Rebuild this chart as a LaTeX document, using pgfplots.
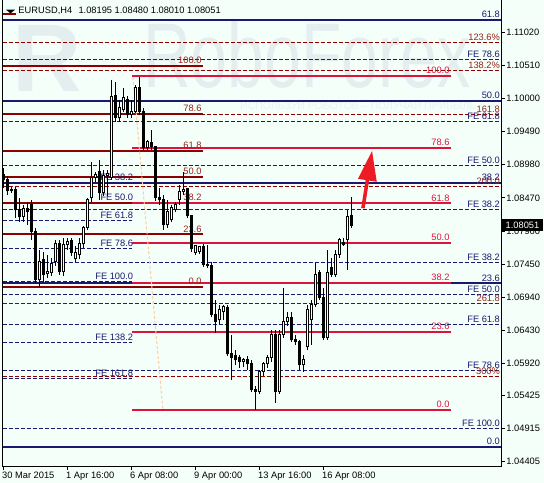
\documentclass[border=0pt]{standalone}
\usepackage{pgfplots}
\pgfplotsset{compat=1.18}
\usepackage{pgfplotstable}
\usepackage{fontspec}
\setmainfont{Liberation Sans}
\usetikzlibrary{arrows.meta}
\definecolor{bg}{RGB}{245,255,250}
\definecolor{navyl}{RGB}{25,25,112}
\definecolor{dred}{RGB}{139,0,0}
\definecolor{dredlab}{RGB}{150,35,25}
\definecolor{crim}{RGB}{220,20,60}
\definecolor{peach}{RGB}{252,205,160}
\definecolor{arrowred}{RGB}{237,28,36}
\definecolor{wm}{RGB}{228,238,238}
\definecolor{wm2}{RGB}{233,241,241}
\newcommand{\tf}{\fontsize{9.3bp}{11bp}\selectfont}
\pgfplotsset{
  solidN/.style={navyl, line width=2bp},
  dashN/.style={navyl, line width=1bp, dash pattern=on 4bp off 2bp},
  solidR/.style={dred, line width=2bp},
  dashR/.style={dred, line width=1bp, dash pattern=on 4bp off 2bp},
  solidC/.style={crim, line width=2bp},
}
\newcommand{\HL}[4]{\addplot[#1, forget plot] coordinates {(#2,#4) (#3,#4)};}
\newcommand{\LB}[4]{\node[font=\tf, text=#1, anchor=base east, inner sep=0pt, yshift=2bp] at (axis cs:#2,#3) {#4};}

\pgfplotstableread{
i o h l c
0 1.08823 1.08931 1.08623 1.08746
1 1.08746 1.08808 1.08515 1.08577
2 1.08592 1.08638 1.08546 1.08577
3 1.08592 1.08638 1.08161 1.08284
4 1.08284 1.08469 1.08099 1.08176
5 1.08176 1.08361 1.08099 1.08299
6 1.08299 1.08392 1.08053 1.08253
7 1.08361 1.08438 1.07822 1.07945
8 1.07945 1.08007 1.07160 1.07206
9 1.07206 1.07668 1.07098 1.07483
10 1.07514 1.07637 1.07175 1.07283
11 1.07298 1.07591 1.07237 1.07329
12 1.07314 1.07545 1.07268 1.07452
13 1.07483 1.07822 1.07422 1.07760
14 1.07760 1.07822 1.07283 1.07329
15 1.07329 1.07853 1.07268 1.07745
16 1.07745 1.07853 1.07668 1.07791
17 1.07807 1.07853 1.07576 1.07622
18 1.07529 1.07730 1.07483 1.07622
19 1.07591 1.07853 1.07529 1.07760
20 1.07760 1.08038 1.07699 1.08007
21 1.08007 1.08469 1.07976 1.08438
22 1.08469 1.09023 1.08407 1.08777
23 1.08777 1.08869 1.08715 1.08823
24 1.08869 1.09054 1.08438 1.08546
25 1.08546 1.08900 1.08500 1.08808
26 1.08808 1.08900 1.08500 1.08838
27 1.08777 1.10286 1.08746 1.10024
28 1.10040 1.10255 1.09639 1.09701
29 1.09701 1.09978 1.09639 1.09855
30 1.09824 1.10163 1.09793 1.10009
31 1.09978 1.10040 1.09701 1.09747
32 1.09747 1.09978 1.09701 1.09793
33 1.09793 1.10209 1.09778 1.10163
34 1.10163 1.10332 1.09747 1.09793
35 1.09793 1.09855 1.09208 1.09239
36 1.09239 1.09362 1.09208 1.09331
37 1.09316 1.09516 1.09208 1.09254
38 1.09254 1.09270 1.08423 1.08469
39 1.08469 1.08623 1.08361 1.08438
40 1.08438 1.08515 1.07976 1.08053
41 1.08053 1.08438 1.08007 1.08253
42 1.08130 1.08361 1.08099 1.08315
43 1.08284 1.08407 1.08253 1.08361
44 1.08438 1.08669 1.08361 1.08561
45 1.08561 1.08869 1.08515 1.08592
46 1.08607 1.08623 1.08161 1.08192
47 1.08192 1.08207 1.07637 1.07683
48 1.07622 1.07745 1.07591 1.07730
49 1.07637 1.07730 1.07606 1.07714
50 1.07714 1.07760 1.07406 1.07437
51 1.07437 1.07745 1.07391 1.07422
52 1.07422 1.07483 1.06636 1.06667
53 1.06667 1.06898 1.06390 1.06559
54 1.06590 1.06821 1.06528 1.06744
55 1.06713 1.06821 1.06590 1.06790
56 1.06775 1.06821 1.06036 1.06066
57 1.06066 1.06359 1.05666 1.06005
58 1.06036 1.06128 1.05897 1.05974
59 1.06005 1.06051 1.05851 1.05943
60 1.05943 1.06005 1.05866 1.05974
61 1.05974 1.06036 1.05820 1.05912
62 1.05912 1.05974 1.05482 1.05512
63 1.05512 1.05574 1.05204 1.05482
64 1.05482 1.05820 1.05451 1.05789
65 1.05789 1.05943 1.05728 1.05912
66 1.05912 1.06051 1.05851 1.06005
67 1.06005 1.06436 1.05943 1.06359
68 1.06359 1.06436 1.05312 1.05482
69 1.05482 1.06436 1.05451 1.06359
70 1.06359 1.07083 1.06313 1.06559
71 1.06559 1.06713 1.06498 1.06621
72 1.06621 1.06713 1.06251 1.06282
73 1.06282 1.06359 1.06205 1.06251
74 1.06251 1.06282 1.05820 1.05897
75 1.05897 1.06051 1.05789 1.05974
76 1.06174 1.06821 1.06128 1.06744
77 1.06590 1.06898 1.06205 1.06821
78 1.06821 1.07468 1.06790 1.07283
79 1.07314 1.07360 1.06898 1.06929
80 1.06929 1.07083 1.06282 1.06313
81 1.06313 1.07668 1.06282 1.07314
82 1.07391 1.07545 1.07252 1.07283
83 1.07283 1.07668 1.07252 1.07591
84 1.07591 1.07853 1.07545 1.07822
85 1.07776 1.07853 1.07730 1.07745
86 1.07822 1.08284 1.07360 1.08176
87 1.08195 1.08480 1.08010 1.08051
}\candles

\begin{document}
\begin{tikzpicture}
\fill[bg] (-2.7bp,-17bp) rectangle (541.3bp,466bp);
% watermark
\node[anchor=base west, inner sep=0pt, text=wm, font=\bfseries\fontsize{96bp}{96bp}\selectfont] at (10bp,374bp) {R};
\node[anchor=base west, inner sep=0pt, text=wm, font=\fontsize{92bp}{92bp}\selectfont, xscale=0.72] at (140.3bp,378bp) {RoboForex};
\node[anchor=base west, inner sep=0pt, text=wm2, font=\fontsize{10.5bp}{11bp}\selectfont] at (237.3bp,356bp) {ИСПОЛЬЗУЙ РОБОТОВ – ПОЛУЧАЙ ПРИБЫЛЬ};
\begin{axis}[
  at={(0,0)}, anchor=south west,
  scale only axis, width=499bp, height=466bp,
  xmin=-0.15, xmax=124.6, ymin=1.04339, ymax=1.11518,
  axis line style={draw=none},
  clip=false,
  xtick={0,16,32,48,64,80},
  xticklabels={30 Mar 2015,1 Apr 16:00,6 Apr 08:00,9 Apr 00:00,13 Apr 16:00,16 Apr 08:00},
  ytick={1.11020,1.10510,1.10000,1.09490,1.08980,1.08470,1.07960,1.07450,1.06940,1.06430,1.05920,1.05425,1.04915,1.04405},
  yticklabels={1.11020,1.10510,1.10000,1.09490,1.08980,1.08470,1.07960,1.07450,1.06940,1.06430,1.05920,1.05425,1.04915,1.04405},
  xtick pos=left, ytick pos=right, yticklabel pos=right,
  tick align=outside, major tick length=3.5bp,
  tick style={black, line width=0.8bp},
  xticklabel style={anchor=north west, font=\tf, inner sep=0pt, xshift=-1.3bp, yshift=-2bp},
  yticklabel style={anchor=west, font=\tf, inner sep=0pt, xshift=1bp},
]
% right full-width levels
\HL{dashR}{-0.15}{124.6}{1.10867}
\HL{dashN}{-0.15}{124.6}{1.10605}
\HL{dashR}{-0.15}{124.6}{1.10435}
\HL{dashR}{-0.15}{124.6}{1.09755}
\HL{dashN}{-0.15}{124.6}{1.09644}
\HL{dashN}{-0.15}{124.6}{1.08972}
\HL{dashR}{-0.15}{124.6}{1.08638}
\HL{dashN}{-0.15}{124.6}{1.08295}
\HL{dashN}{-0.15}{124.6}{1.07479}
\HL{dashN}{-0.15}{124.6}{1.06986}
\HL{dashR}{-0.15}{124.6}{1.06847}
\HL{dashN}{-0.15}{124.6}{1.06513}
\HL{dashN}{-0.15}{124.6}{1.05809}
\HL{dashR}{-0.15}{124.6}{1.05717}
\HL{dashN}{-0.15}{124.6}{1.04922}
% left FE levels
\HL{dashN}{-0.15}{32.2}{1.08400}
\HL{dashN}{-0.15}{32.2}{1.08115}
\HL{dashN}{-0.15}{32.2}{1.07694}
\HL{dashN}{-0.15}{32.2}{1.07183}
\HL{dashN}{-0.15}{32.2}{1.06247}
\HL{dashN}{-0.15}{32.2}{1.05681}
% navy retracement
\HL{solidN}{-0.15}{124.6}{1.11210}
\HL{solidN}{-0.15}{124.6}{1.09967}
\HL{solidN}{-0.15}{124.6}{1.08700}
\HL{solidN}{-0.15}{124.6}{1.07155}
\HL{solidN}{-0.15}{124.6}{1.04639}
% dark red retracement
\HL{solidR}{-0.15}{49.85}{1.10506}
\HL{solidR}{-0.15}{49.85}{1.09767}
\HL{solidR}{-0.15}{49.85}{1.09197}
\HL{solidR}{-0.15}{49.85}{1.08797}
\HL{solidR}{-0.15}{49.85}{1.08396}
\HL{solidR}{-0.15}{49.85}{1.07907}
\HL{solidR}{-0.15}{49.85}{1.07103}
% crimson retracement
\HL{solidC}{32.2}{111.9}{1.10348}
\HL{solidC}{32.2}{111.9}{1.09243}
\HL{solidC}{32.2}{111.9}{1.08384}
\HL{solidC}{32.2}{111.9}{1.07780}
\HL{solidC}{32.2}{111.9}{1.07160}
\HL{solidC}{32.2}{111.9}{1.06410}
\HL{solidC}{32.2}{111.9}{1.05204}
% fibo base line
\addplot[peach, line width=1bp, dash pattern=on 3bp off 2bp, forget plot] coordinates {(32.4,1.10332) (39.9,1.05204)};
% labels right
\LB{dredlab}{124.2}{1.10867}{123.6\%}
\LB{navyl}{124.2}{1.10605}{FE 78.6}
\LB{dredlab}{124.2}{1.10435}{138.2\%}
\LB{dredlab}{124.2}{1.09755}{161.8}
\LB{navyl}{124.2}{1.09644}{FE 61.8}
\LB{navyl}{124.2}{1.08972}{FE 50.0}
\LB{dredlab}{124.2}{1.08638}{200.0}
\LB{navyl}{124.2}{1.08295}{FE 38.2}
\LB{navyl}{124.2}{1.07479}{FE 38.2}
\LB{navyl}{124.2}{1.06986}{FE 50.0}
\LB{dredlab}{124.2}{1.06847}{261.8}
\LB{navyl}{124.2}{1.06513}{FE 61.8}
\LB{navyl}{124.2}{1.05809}{FE 78.6}
\LB{dredlab}{124.2}{1.05717}{300\%}
\LB{navyl}{124.2}{1.04922}{FE 100.0}
\LB{navyl}{124.2}{1.11210}{61.8}
\LB{navyl}{124.2}{1.09967}{50.0}
\LB{navyl}{124.2}{1.08700}{38.2}
\LB{navyl}{124.2}{1.07155}{23.6}
\LB{navyl}{124.2}{1.04639}{0.0}
% left FE labels
\LB{navyl}{32.5}{1.08700}{FE 38.2}
\LB{navyl}{32.5}{1.08400}{FE 50.0}
\LB{navyl}{32.5}{1.08115}{FE 61.8}
\LB{navyl}{32.5}{1.07694}{FE 78.6}
\LB{navyl}{32.5}{1.07183}{FE 100.0}
\LB{navyl}{32.5}{1.06247}{FE 138.2}
\LB{navyl}{32.5}{1.05681}{FE 161.8}
% dark red labels
\LB{dredlab}{49.6}{1.10506}{100.0}
\LB{dredlab}{49.6}{1.09767}{78.6}
\LB{dredlab}{49.6}{1.09197}{61.8}
\LB{dredlab}{49.6}{1.08797}{50.0}
\LB{dredlab}{49.6}{1.08396}{38.2}
\LB{dredlab}{49.6}{1.07907}{23.6}
\LB{dredlab}{49.6}{1.07103}{0.0}
% crimson labels
\LB{crim}{111.6}{1.10348}{100.0}
\LB{crim}{111.6}{1.09243}{78.6}
\LB{crim}{111.6}{1.08384}{61.8}
\LB{crim}{111.6}{1.07780}{50.0}
\LB{crim}{111.6}{1.07160}{38.2}
\LB{crim}{111.6}{1.06410}{23.6}
\LB{crim}{111.6}{1.05204}{0.0}
% candles: wicks
\addplot[draw=none, mark=none, forget plot,
  error bars/.cd, y dir=plus, y explicit, error mark=none,
  error bar style={draw=black, solid, line width=1bp}]
  table[x=i, y=l, y error plus expr={\thisrow{h}-\thisrow{l}}] {\candles};
% bodies (outline / bear fill)
\addplot[draw=none, mark=none, forget plot,
  error bars/.cd, y dir=plus, y explicit, error mark=none,
  error bar style={draw=black, solid, line width=3bp}]
  table[x=i, y expr={min(\thisrow{o},\thisrow{c})-0.00008}, y error plus expr={abs(\thisrow{o}-\thisrow{c})+0.00016}] {\candles};
% bull interior
\addplot[draw=none, mark=none, forget plot,
  error bars/.cd, y dir=plus, y explicit, error mark=none,
  error bar style={draw=white, solid, line width=1bp}]
  table[x=i, y expr={\thisrow{o}+0.00008}, y error plus expr={max(\thisrow{c}-\thisrow{o}-0.00016,0)}] {\candles};
% arrow
\addplot[arrowred, line width=3.5bp, -{Triangle[length=30bp, width=18bp]}, forget plot] coordinates {(89.9,1.08310) (92.2,1.09197)};
% frame
\draw[black, line width=1bp] (rel axis cs:0,1) -- (rel axis cs:0,0) -- (rel axis cs:1,0) -- (rel axis cs:1,1);
\coordinate (pb) at (axis cs:124.6,1.08051);
\end{axis}
\node[fill=black, text=white, font=\tf, anchor=west, inner xsep=3.8bp, inner ysep=0pt, minimum height=12.5bp] at (pb) {1.08051};
% header
\fill[black] (3.3bp,456.3bp) -- (12.3bp,456.3bp) -- (7.8bp,452.6bp) -- cycle;
\draw[dred, line width=2bp] (0bp,451.5bp) -- (13.5bp,451.5bp);
\node[anchor=west, inner sep=0pt, font=\tf] at (15.6bp,455.3bp) {EURUSD,H4};
\node[anchor=west, inner sep=0pt, font=\tf] at (75.6bp,455.3bp) {1.08195 1.08480 1.08010 1.08051};
\pgfresetboundingbox
\path[use as bounding box] (-2.7bp,-17bp) rectangle (541.3bp,466bp);
\end{tikzpicture}
\end{document}
